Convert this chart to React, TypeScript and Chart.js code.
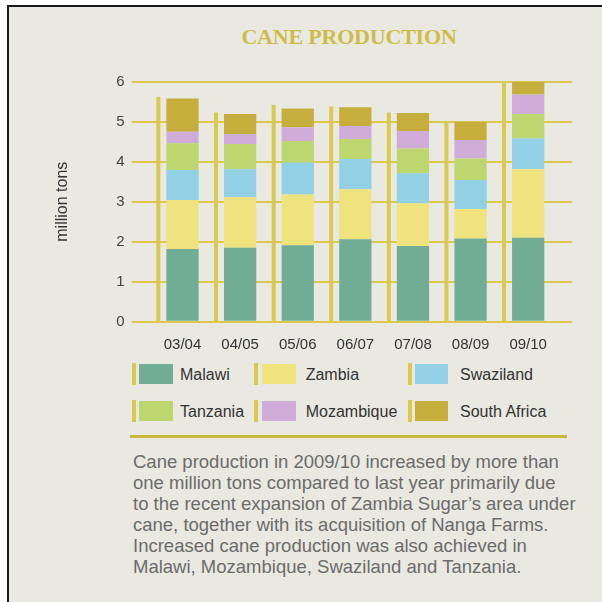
import React, { useEffect, useRef } from "react";
import { Chart, registerables } from "chart.js";

Chart.register(...registerables);

const categories = ["03/04", "04/05", "05/06", "06/07", "07/08", "08/09", "09/10"];
const seriesNames = ["Malawi", "Zambia", "Swaziland", "Tanzania", "Mozambique", "South Africa"];
const malawi = [1.82, 1.85, 1.91, 2.06, 1.89, 2.08, 2.1];
const zambia = [1.22, 1.26, 1.27, 1.25, 1.07, 0.74, 1.71];
const swaziland = [0.75, 0.7, 0.8, 0.76, 0.75, 0.72, 0.77];
const tanzania = [0.67, 0.63, 0.54, 0.5, 0.62, 0.54, 0.61];
const mozambique = [0.29, 0.25, 0.34, 0.32, 0.44, 0.46, 0.49];
const southAfrica = [0.83, 0.5, 0.47, 0.47, 0.45, 0.46, 0.32];
const markerTops = [5.62, 5.23, 5.42, 5.38, 5.23, 5.02, 5.96];
const yMin = 0;
const yMax = 6;
const yStep = 1;

const seriesValues = [malawi, zambia, swaziland, tanzania, mozambique, southAfrica];
const seriesColors = ["#70ad94", "#eee37c", "#92d0e6", "#bdd66e", "#d0acd8", "#c6ae3c"];
const gridColor = "#d9c94e";
const titleText = "CANE PRODUCTION";
const yTitle = "million tons";
const paragraphLines = [
  "Cane production in 2009/10 increased by more than",
  "one million tons compared to last year primarily due",
  "to the recent expansion of Zambia Sugar\u2019s area under",
  "cane, together with its acquisition of Nanga Farms.",
  "Increased cane production was also achieved in",
  "Malawi, Mozambique, Swaziland and Tanzania.",
];

const markerPlugin = {
  id: "barMarkers",
  beforeDatasetsDraw(chart: any) {
    const { ctx, scales } = chart;
    const meta = chart.getDatasetMeta(0);
    const y0 = scales.y.getPixelForValue(0);
    ctx.save();
    ctx.fillStyle = gridColor;
    markerTops.forEach((v, i) => {
      const bar = meta.data[i];
      if (!bar) return;
      const w = bar.width;
      const cx = scales.x.getPixelForValue(i) - w / 2 - 8;
      const top = scales.y.getPixelForValue(v);
      ctx.fillRect(cx - 2, top, 4, y0 - top);
    });
    ctx.restore();
  },
};

const FONT = "'Liberation Sans', Arial, Helvetica, sans-serif";

export default function App() {
  const canvasRef = useRef<HTMLCanvasElement | null>(null);

  useEffect(() => {
    if (!canvasRef.current) return;
    const chart = new Chart(canvasRef.current, {
      type: "bar",
      data: {
        labels: categories,
        datasets: seriesNames.map((name, i) => ({
          label: name,
          data: seriesValues[i],
          backgroundColor: seriesColors[i],
          borderWidth: 0,
          categoryPercentage: 1,
          barPercentage: 0.56,
        })),
      },
      plugins: [markerPlugin],
      options: {
        animation: false,
        responsive: false,
        devicePixelRatio: 1,
        layout: { padding: { left: 49.4, right: 30, top: 81.7, bottom: 0 } },
        plugins: {
          legend: { display: false },
          tooltip: { enabled: false },
          title: { display: false },
        },
        scales: {
          x: {
            stacked: true,
            grid: { display: false, drawTicks: false },
            border: { display: false },
            ticks: { color: "#333", font: { family: FONT, size: 15 }, padding: 14 },
            afterFit: (s: any) => {
              s.height = 38.3;
            },
          },
          y: {
            stacked: true,
            min: yMin,
            max: yMax,
            position: "left",
            border: { display: false },
            grid: { color: gridColor, lineWidth: 2, drawTicks: true, tickLength: 22 },
            ticks: {
              stepSize: yStep,
              color: "#444",
              padding: 7,
              font: { family: FONT, size: 15 },
            },
            title: {
              display: true,
              text: yTitle,
              color: "#333",
              font: { family: FONT, size: 16 },
            },
            afterFit: (s: any) => {
              s.width = 104.3;
            },
          },
          y2: {
            min: yMin,
            max: yMax,
            position: "right",
            border: { display: false },
            grid: { color: gridColor, lineWidth: 2, drawOnChartArea: false, drawTicks: true, tickLength: 15 },
            ticks: { stepSize: yStep, display: false },
            afterFit: (s: any) => {
              s.width = 15;
            },
          },
        },
      },
    } as any);
    return () => chart.destroy();
  }, []);

  const legendCols = [
    { mark: 131.7, box: 139.3, boxW: 33.4, label: 180 },
    { mark: 254.3, box: 261.7, boxW: 34, label: 305.7 },
    { mark: 408.3, box: 415, boxW: 33.3, label: 460 },
  ];
  const legendRows = [{ y: 364 }, { y: 400.7 }];

  return (
    <div style={{ position: "absolute", left: 0, top: 0, width: 602, height: 602, overflow: "hidden", background: "#fff" }}>
      <div
        style={{
          position: "absolute",
          left: 7,
          top: 5,
          width: 600,
          height: 600,
          borderTop: "2px solid #1a1a1a",
          borderLeft: "2px solid #1a1a1a",
          background: "#e9e9e2",
        }}
      />
      <div
        style={{
          position: "absolute",
          left: 149,
          width: 400,
          top: 24,
          textAlign: "center",
          fontFamily: "'Liberation Serif', 'Times New Roman', serif",
          fontWeight: "bold",
          fontSize: 22,
          lineHeight: "25px",
          letterSpacing: "-0.2px",
          color: "#cdbd48",
          whiteSpace: "nowrap",
        }}
      >
        {titleText}
      </div>
      <canvas
        ref={canvasRef}
        width={602}
        height={360}
        style={{ position: "absolute", left: 0, top: 0, width: 602, height: 360 }}
      />
      {seriesNames.map((name, i) => {
        const col = legendCols[i % 3];
        const row = legendRows[Math.floor(i / 3)];
        return (
          <React.Fragment key={name}>
            <div style={{ position: "absolute", left: col.mark, top: row.y - 1, width: 4, height: 22, background: gridColor }} />
            <div style={{ position: "absolute", left: col.box, top: row.y, width: col.boxW, height: 20, background: seriesColors[i] }} />
            <div
              style={{
                position: "absolute",
                left: col.label,
                top: row.y + 1,
                lineHeight: "20px",
                fontFamily: FONT,
                fontSize: 16,
                color: "#333",
                whiteSpace: "nowrap",
              }}
            >
              {name}
            </div>
          </React.Fragment>
        );
      })}
      <div style={{ position: "absolute", left: 130, top: 434.5, width: 437, height: 3, background: "#c9b93a" }} />
      <div
        style={{
          position: "absolute",
          left: 133,
          top: 451,
          fontFamily: FONT,
          fontSize: 18.5,
          lineHeight: "21px",
          color: "#6b6b6b",
          whiteSpace: "nowrap",
        }}
      >
        {paragraphLines.map((l) => (
          <div key={l}>{l}</div>
        ))}
      </div>
    </div>
  );
}
